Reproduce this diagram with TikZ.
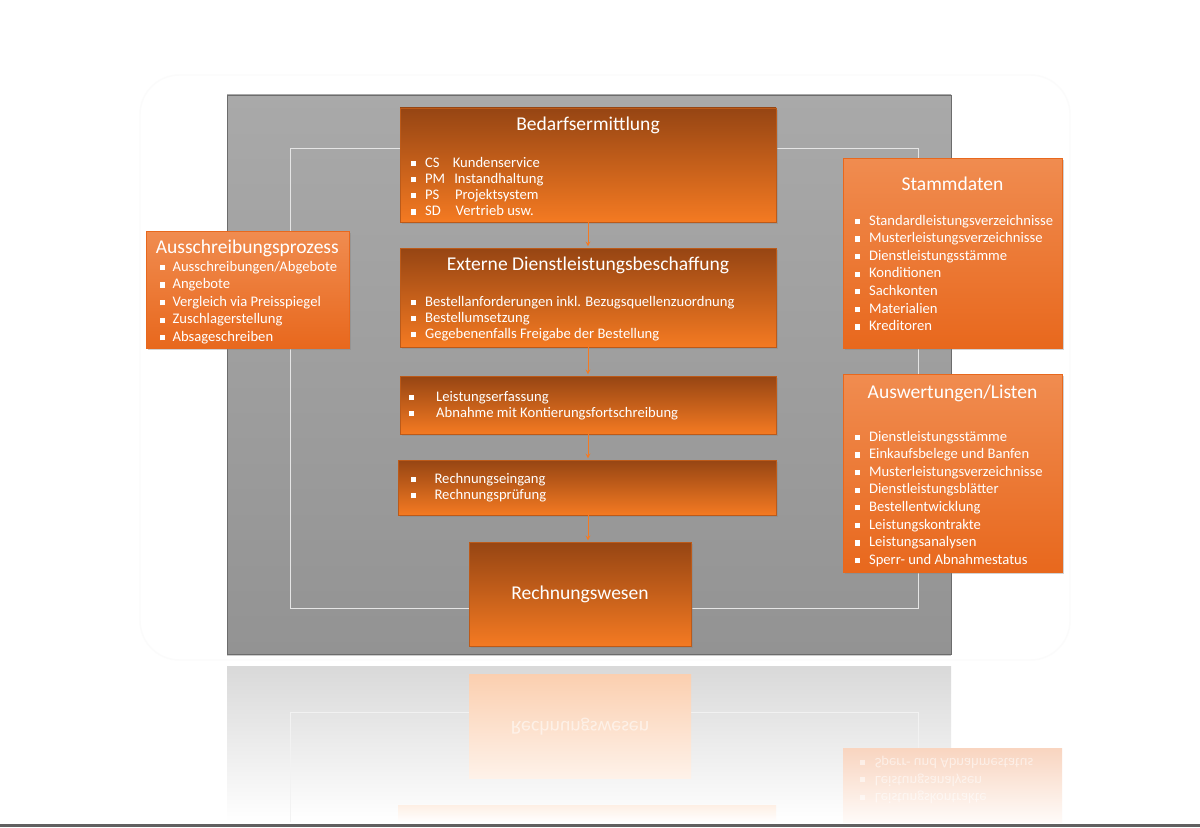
\documentclass[tikz,border=0pt]{standalone}
\usepackage{fontspec}
\setmainfont{Carlito}
\usepackage{xcolor}
\usepackage{tikz}
\usetikzlibrary{positioning,calc,fit}
\usetikzlibrary{arrows,shadows}

\definecolor{orDark}{HTML}{964513}
\definecolor{orLight}{HTML}{F47A22}
\definecolor{orSideTop}{HTML}{F08C50}
\definecolor{orSideBot}{HTML}{E8681D}
\definecolor{panelTop}{HTML}{A9A9A9}
\definecolor{panelBot}{HTML}{939393}
\newcommand{\sqb}[1][0.6em]{\rule[0.07em]{0.36em}{0.36em}\hspace{#1}}

\begin{document}
\begin{tikzpicture}[>=stealth, x=0.025cm, y=-0.025cm,
    flowbox/.style={draw=orDark!60!orLight, top color=orDark, bottom color=orLight, inner sep=0pt,
      drop shadow={opacity=0.35, shadow xshift=1.2pt, shadow yshift=-1.2pt}},
    sidebox/.style={flowbox, draw=orSideBot, top color=orSideTop, bottom color=orSideBot},
    boxtitle/.style={text=white, font=\fontsize{13.9}{16}\selectfont, inner sep=0pt},
    boxlist/.style={text=white, align=left, font=\fontsize{10.4}{11.5}\selectfont, inner sep=0pt, anchor=north west},
    sidelist/.style={boxlist, font=\fontsize{10.4}{12.5}\selectfont},
    flowarrow/.style={->, orLight, line width=0.5pt, shorten >=1pt},
    mirror/.style={yscale=-1, transform shape, opacity=0.55}
  ]
  \useasboundingbox (0,0) rectangle (1200,827);
  \fill[white] (0,0) rectangle (1200,827);

  % faint frame and grey panel
  \draw[gray!3, line width=1pt, rounded corners=28pt] (140,75) rectangle (1070,660);
  \shade[top color=panelTop, bottom color=panelBot, draw=gray!85!black, line width=0.4pt,
    drop shadow={opacity=0.4, shadow xshift=0pt, shadow yshift=-1.5pt}] (227,95) rectangle (951,654);
  \draw[white!80!gray, line width=0.6pt] (290,148) rectangle (918,608);

  % reflection
  \shade[top color=gray!30, bottom color=white] (227,666) rectangle (951,822);
  \draw[white!90!gray, line width=0.6pt] (290,822) -- (290,712) -- (918,712) -- (918,822);
  \shade[top color=orLight!36, bottom color=orLight!10] (469,674) rectangle (691,778);
  \shade[top color=orLight!12, bottom color=white] (398,805) rectangle (776,822);
  \shade[top color=orSideBot!28, bottom color=orSideBot!3] (843,748) rectangle (1062,822);
  \node[mirror, text=white, font=\fontsize{14}{16}\selectfont] (rwM) at (580,727) {Rechnungswesen};
  \node[mirror, text=white, align=left, font=\fontsize{10.4}{12.5}\selectfont, anchor=west] (auswM) at (855,780)
    {\sqb[0.65em]Leistungskontrakte\\ \sqb[0.65em]Leistungsanalysen\\ \sqb[0.65em]Sperr- und Abnahmestatus};

  % process chain
  \node[flowbox, fit={(400,108) (776,222)}] (bed) {};
  \node[flowbox, fit={(400,248) (776,347)}] (ext) {};
  \node[flowbox, fit={(400,376) (776,434)}] (leist) {};
  \node[flowbox, fit={(398,460) (776,515)}] (ein) {};
  \node[flowbox, fit={(469,542) (691,646)}] (rw) {};

  \node[boxtitle, below=6.5pt of bed.north] (bedT) {Bedarfsermittlung};
  \node[boxlist] (bedL) at ($(bed.north west)+(11,49)$)
    {\sqb\makebox[1.9em][l]{CS}Kundenservice\\
     \sqb\makebox[2.0em][l]{PM}Instandhaltung\\
     \sqb\makebox[2.05em][l]{PS}Projektsystem\\
     \sqb\makebox[2.1em][l]{SD}Vertrieb usw.};
  \node[boxtitle, below=6.5pt of ext.north] (extT) {Externe Dienstleistungsbeschaffung};
  \node[boxlist] (extL) at ($(ext.north west)+(11,48)$)
    {\sqb Bestellanforderungen inkl. Bezugsquellenzuordnung\\
     \sqb Bestellumsetzung\\
     \sqb Gegebenenfalls Freigabe der Bestellung};
  \node[boxlist] (leistL) at ($(leist.north west)+(9,15)$)
    {\sqb[1.5em]Leistungserfassung\\
     \sqb[1.5em]Abnahme mit Kontierungsfortschreibung};
  \node[boxlist] (einL) at ($(ein.north west)+(13,13)$)
    {\sqb[1.25em]Rechnungseingang\\
     \sqb[1.25em]Rechnungsprüfung};
  \node[boxtitle] (rwT) at ($(rw.center)+(0,0)$) {Rechnungswesen};

  \draw[flowarrow] (bed) -- (ext);
  \draw[flowarrow] (ext) -- (leist);
  \draw[flowarrow] (leist.south) -- (leist.south |- ein.north);
  \draw[flowarrow] (ein.south -| leist.south) -- (leist.south |- rw.north);

  % side boxes
  \node[sidebox, fit={(146,231) (349,348)}] (aus) {};
  \node[boxtitle, below right=6pt and 7pt of aus.north west] (ausT) {Ausschreibungsprozess};
  \node[sidelist] (ausL) at ($(aus.north west)+(14,30)$)
    {\sqb[0.5em]Ausschreibungen/Abgebote\\
     \sqb[0.5em]Angebote\\
     \sqb[0.5em]Vergleich via Preisspiegel\\
     \sqb[0.5em]Zuschlagerstellung\\
     \sqb[0.5em]Absageschreiben};

  \node[sidebox, fit={(843,158) (1062,348)}] (stamm) {};
  \node[boxtitle, below=13.5pt of stamm.north] (stammT) {Stammdaten};
  \node[sidelist] (stammL) at ($(stamm.north west)+(12,57)$)
    {\sqb[0.6em]Standardleistungsverzeichnisse\\
     \sqb[0.6em]Musterleistungsverzeichnisse\\
     \sqb[0.6em]Dienstleistungsstämme\\
     \sqb[0.6em]Konditionen\\
     \sqb[0.6em]Sachkonten\\
     \sqb[0.6em]Materialien\\
     \sqb[0.6em]Kreditoren};

  \node[sidebox, fit={(843,374) (1062,572)}] (ausw) {};
  \node[boxtitle, below=7.5pt of ausw.north] (auswT) {Auswertungen/Listen};
  \node[sidelist] (auswL) at ($(ausw.north west)+(12,57)$)
    {\sqb[0.6em]Dienstleistungsstämme\\
     \sqb[0.6em]Einkaufsbelege und Banfen\\
     \sqb[0.6em]Musterleistungsverzeichnisse\\
     \sqb[0.6em]Dienstleistungsblätter\\
     \sqb[0.6em]Bestellentwicklung\\
     \sqb[0.6em]Leistungskontrakte\\
     \sqb[0.6em]Leistungsanalysen\\
     \sqb[0.6em]Sperr- und Abnahmestatus};

  \fill[gray!75!black] (0,824) rectangle (1200,827);
\end{tikzpicture}
\end{document}
